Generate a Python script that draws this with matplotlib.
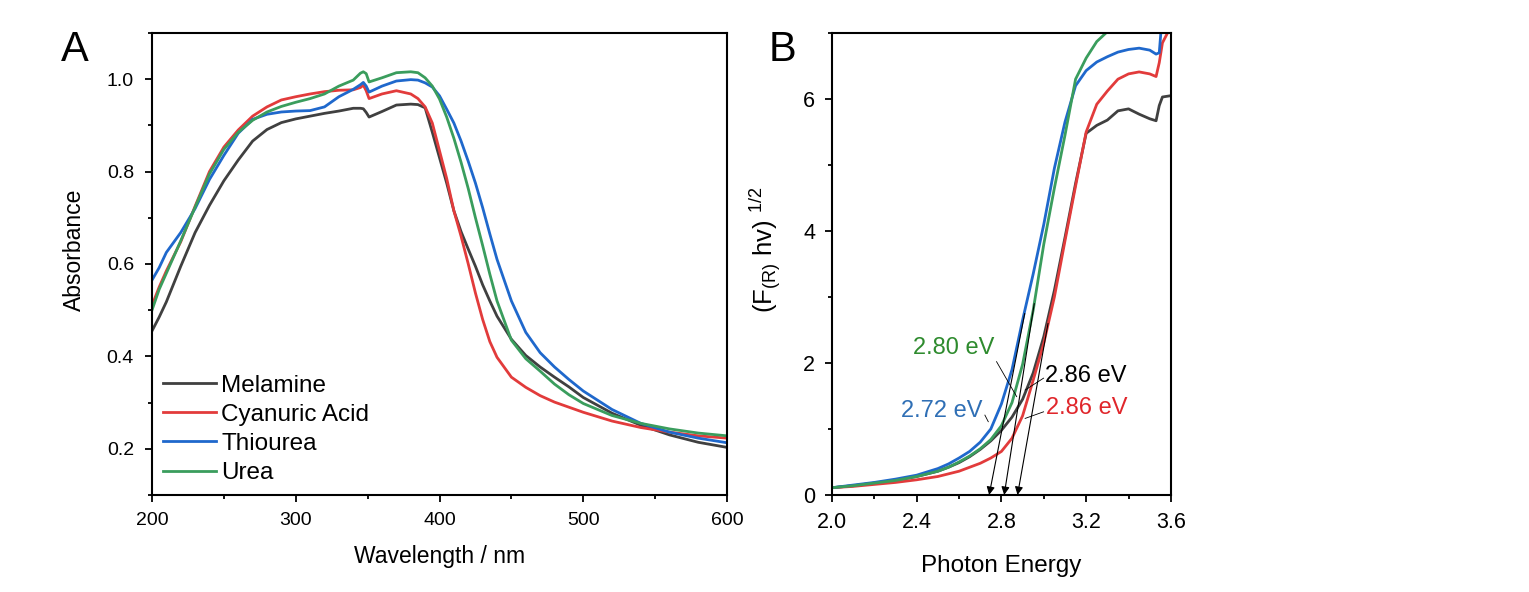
import matplotlib
matplotlib.use("Agg")
import matplotlib.pyplot as plt
from matplotlib.ticker import MultipleLocator, FormatStrFormatter

plt.rcParams['font.family'] = ['Liberation Sans', 'DejaVu Sans']
plt.rcParams['mathtext.fontset'] = 'custom'
plt.rcParams['mathtext.rm'] = 'Liberation Sans'
plt.rcParams['mathtext.default'] = 'regular'

### Data

# panel A: UV-vis absorbance
wavelength = [200, 205, 210, 220, 230, 240, 250, 260, 270, 280, 290, 300, 310, 320,
              330, 340, 345, 347, 349, 351, 360, 370, 380, 385, 390, 395, 400, 405,
              410, 415, 420, 425, 430, 435, 440, 450, 460, 470, 480, 490, 500, 520,
              540, 560, 580, 600]
abs_melamine = [0.455, 0.485, 0.518, 0.595, 0.668, 0.727, 0.780, 0.825, 0.866, 0.891,
                0.906, 0.914, 0.920, 0.926, 0.931, 0.937, 0.937, 0.936, 0.928, 0.918,
                0.930, 0.944, 0.946, 0.945, 0.938, 0.885, 0.830, 0.775, 0.715, 0.670,
                0.632, 0.595, 0.555, 0.520, 0.487, 0.437, 0.402, 0.377, 0.355, 0.334,
                0.311, 0.277, 0.251, 0.230, 0.214, 0.203]
abs_cyanuric = [0.510, 0.550, 0.585, 0.648, 0.725, 0.800, 0.853, 0.890, 0.920, 0.940,
                0.955, 0.962, 0.968, 0.973, 0.976, 0.977, 0.982, 0.987, 0.975, 0.958,
                0.968, 0.975, 0.968, 0.958, 0.940, 0.905, 0.845, 0.785, 0.715, 0.660,
                0.600, 0.537, 0.480, 0.432, 0.398, 0.355, 0.333, 0.315, 0.301, 0.290,
                0.279, 0.260, 0.246, 0.236, 0.228, 0.223]
abs_thiourea = [0.565, 0.592, 0.625, 0.668, 0.720, 0.783, 0.835, 0.883, 0.913, 0.924,
                0.929, 0.931, 0.932, 0.940, 0.962, 0.978, 0.988, 0.993, 0.985, 0.972,
                0.985, 0.996, 0.999, 0.998, 0.992, 0.983, 0.964, 0.935, 0.905, 0.866,
                0.822, 0.775, 0.722, 0.665, 0.610, 0.520, 0.452, 0.408, 0.377, 0.350,
                0.325, 0.285, 0.255, 0.236, 0.223, 0.213]
abs_urea = [0.500, 0.545, 0.580, 0.650, 0.723, 0.795, 0.848, 0.885, 0.911, 0.929,
            0.941, 0.950, 0.958, 0.968, 0.985, 0.998, 1.013, 1.016, 1.012, 0.994,
            1.003, 1.014, 1.016, 1.014, 1.003, 0.985, 0.957, 0.918, 0.872, 0.820,
            0.763, 0.700, 0.640, 0.578, 0.520, 0.435, 0.395, 0.368, 0.340, 0.317,
            0.298, 0.272, 0.255, 0.243, 0.234, 0.228]

# panel B: Tauc plot
energy = [2.0, 2.1, 2.2, 2.3, 2.4, 2.5, 2.55, 2.6, 2.65, 2.7, 2.75, 2.8, 2.85, 2.9,
          2.95, 3.0, 3.05, 3.1, 3.15, 3.2, 3.25, 3.3, 3.35, 3.4, 3.45, 3.5, 3.53,
          3.545, 3.56, 3.6]
tauc_melamine = [0.11, 0.14, 0.18, 0.22, 0.28, 0.36, 0.42, 0.49, 0.58, 0.69, 0.82, 0.98,
                 1.18, 1.45, 1.85, 2.40, 3.10, 3.90, 4.72, 5.48, 5.60, 5.68, 5.82, 5.85,
                 5.77, 5.70, 5.67, 5.90, 6.03, 6.05]
tauc_cyanuric = [0.11, 0.13, 0.16, 0.19, 0.23, 0.28, 0.32, 0.36, 0.42, 0.48, 0.56, 0.66,
                 0.86, 1.20, 1.74, 2.30, 3.00, 3.85, 4.68, 5.50, 5.92, 6.12, 6.30, 6.38,
                 6.41, 6.38, 6.34, 6.55, 6.85, 7.10]
tauc_thiourea = [0.11, 0.15, 0.19, 0.24, 0.30, 0.40, 0.47, 0.56, 0.66, 0.80, 1.00, 1.38,
                 1.90, 2.65, 3.35, 4.10, 4.95, 5.65, 6.20, 6.43, 6.56, 6.64, 6.71, 6.75,
                 6.77, 6.74, 6.68, 6.70, 7.30, 7.50]
tauc_urea = [0.11, 0.14, 0.18, 0.22, 0.28, 0.36, 0.42, 0.50, 0.59, 0.70, 0.84, 1.05,
             1.40, 1.98, 2.80, 3.80, 4.65, 5.45, 6.30, 6.62, 6.87, 7.02, 7.15, 7.25,
             7.30, 7.35, 7.38, 7.40, 7.45, 7.50]

labels = ['Melamine', 'Cyanuric Acid', 'Thiourea', 'Urea']
colors = ['#404040', '#e23b3b', '#1f68cc', '#3a9d5d']

# band gap tangents: tip on the x axis, start up on the curve
tangent_tip_x = [2.742, 2.813, 2.876]
tangent_start = [(2.91, 2.75), (2.955, 2.9), (3.02, 2.6)]

gap_texts = ['2.80 eV', '2.86 eV', '2.72 eV', '2.86 eV']
gap_colors = ['#2e8b2e', 'black', '#2f6fb5', '#e0262b']
gap_text_pos = [(2.576, 2.23), (3.199, 1.80), (2.519, 1.27), (3.203, 1.32)]
leader_lines = [((2.777, 2.02), (2.872, 1.49)),
                ((2.999, 1.77), (2.912, 1.59)),
                ((2.722, 1.21), (2.738, 1.11)),
                ((2.999, 1.26), (2.912, 1.16))]

### Figure

fig = plt.figure(figsize=(15.29, 5.92), dpi=100)
axA = fig.add_axes([0.0994, 0.1639, 0.3761, 0.7804])
axB = fig.add_axes([0.5441, 0.1639, 0.2217, 0.7804])

for ax in (axA, axB):
    for sp in ax.spines.values():
        sp.set_linewidth(1.5)
    ax.tick_params(which='major', direction='out', length=5, width=1.3, pad=7)
    ax.tick_params(which='minor', direction='out', length=3, width=1.3)

# A
for y, lab, c in zip([abs_melamine, abs_cyanuric, abs_thiourea, abs_urea], labels, colors):
    axA.plot(wavelength, y, color=c, lw=2, label=lab)
axA.set_xlim(200, 600)
axA.set_ylim(0.1, 1.1)
axA.xaxis.set_major_locator(MultipleLocator(100))
axA.xaxis.set_minor_locator(MultipleLocator(50))
axA.yaxis.set_minor_locator(MultipleLocator(0.1))
axA.set_yticks([0.2, 0.4, 0.6, 0.8, 1.0])
axA.yaxis.set_major_formatter(FormatStrFormatter('%.1f'))
axA.tick_params(labelsize=14)
axA.tick_params(axis='y', pad=8)
axA.set_xlabel('Wavelength / nm', fontsize=16.5, labelpad=12)
axA.set_ylabel('Absorbance', fontsize=16.5)
axA.yaxis.set_label_coords(-0.115, 0.53)
axA.legend(loc='lower left', bbox_to_anchor=(0.0, 0.0), frameon=False, fontsize=17.5,
           handlelength=2.2, handletextpad=0.2, labelspacing=0.29, borderaxespad=0.05)

# B
for y, c in zip([tauc_melamine, tauc_cyanuric, tauc_thiourea, tauc_urea], colors):
    axB.plot(energy, y, color=c, lw=2)
axB.set_xlim(2.0, 3.6)
axB.set_ylim(0, 7)
axB.xaxis.set_major_locator(MultipleLocator(0.4))
axB.xaxis.set_minor_locator(MultipleLocator(0.2))
axB.xaxis.set_major_formatter(FormatStrFormatter('%.1f'))
axB.yaxis.set_major_locator(MultipleLocator(2))
axB.yaxis.set_minor_locator(MultipleLocator(1))
axB.tick_params(labelsize=15.5)
axB.set_xlabel('Photon Energy', fontsize=17.5, labelpad=16)
axB.set_ylabel(r'(F$_{(R)}$ hv) $^{1/2}$', fontsize=18.5)
axB.yaxis.set_label_coords(-0.144, 0.53)

for tip, start in zip(tangent_tip_x, tangent_start):
    axB.annotate('', xy=(tip, 0), xytext=start,
                 arrowprops=dict(arrowstyle='-|>', lw=0.8, color='black',
                                 mutation_scale=12, shrinkA=0, shrinkB=0))

for txt, c, pos in zip(gap_texts, gap_colors, gap_text_pos):
    axB.text(pos[0], pos[1], txt, color=c, fontsize=17, ha='center', va='center')
for p0, p1 in leader_lines:
    axB.plot([p0[0], p1[0]], [p0[1], p1[1]], color='black', lw=0.6)

fig.text(75 / 1529, 1 - 50 / 592, 'A', fontsize=30, ha='center', va='center')
fig.text(782 / 1529, 1 - 50 / 592, 'B', fontsize=30, ha='center', va='center')

fig.savefig('out.png', dpi=100)
